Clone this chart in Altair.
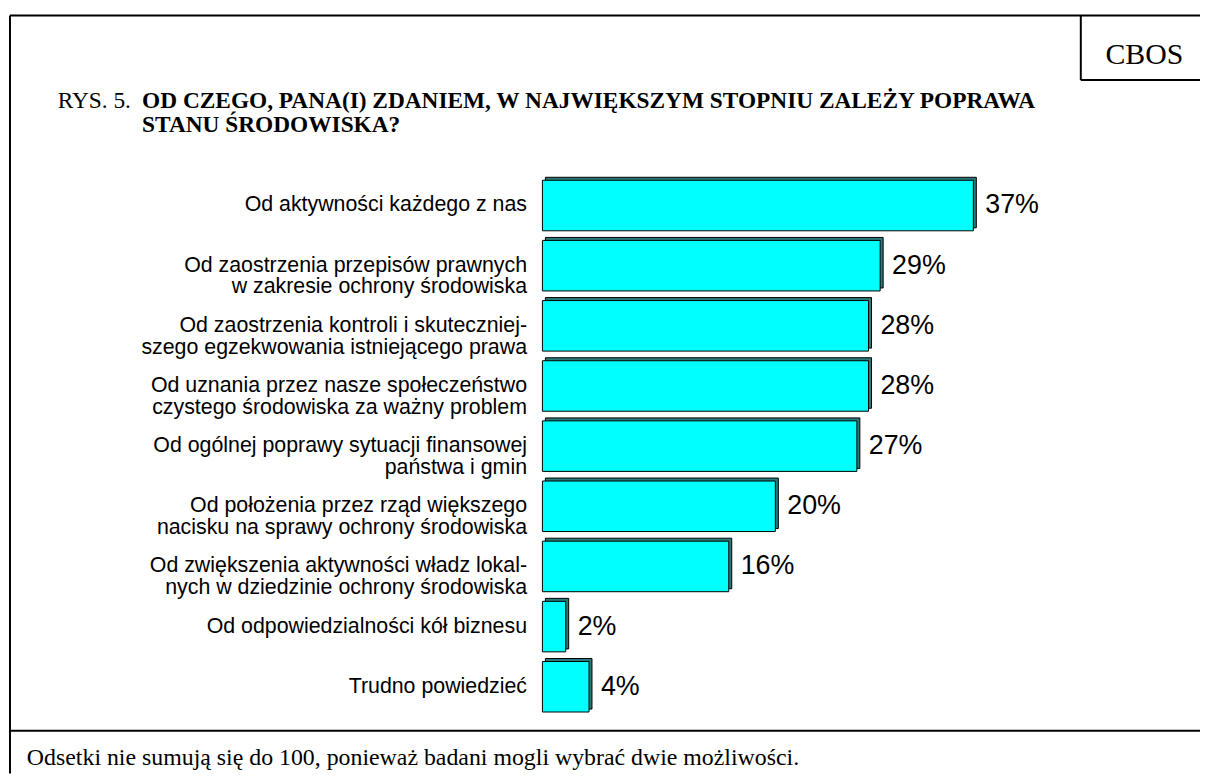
import altair as alt
import pandas as pd

# ---- data ----
categories = [
    "Od aktywności każdego z nas",
    "Od zaostrzenia przepisów prawnych\nw zakresie ochrony środowiska",
    "Od zaostrzenia kontroli i skuteczniej-\nszego egzekwowania istniejącego prawa",
    "Od uznania przez nasze społeczeństwo\nczystego środowiska za ważny problem",
    "Od ogólnej poprawy sytuacji finansowej\npaństwa i gmin",
    "Od położenia przez rząd większego\nnacisku na sprawy ochrony środowiska",
    "Od zwiększenia aktywności władz lokal-\nnych w dziedzinie ochrony środowiska",
    "Od odpowiedzialności kół biznesu",
    "Trudno powiedzieć",
]
values = [37, 29, 28, 28, 27, 20, 16, 2, 4]

title_prefix = "RYS. 5."
title_lines = [
    "OD CZEGO, PANA(I) ZDANIEM, W NAJWIĘKSZYM STOPNIU ZALEŻY POPRAWA",
    "STANU ŚRODOWISKA?",
]
source_label = "CBOS"
footnote = "Odsetki nie sumują się do 100, ponieważ badani mogli wybrać dwie możliwości."

df = pd.DataFrame({"label": categories, "value": values})
df["txt"] = [f"{v}%" for v in values]
one = pd.DataFrame({"k": [0]})

SANS = "Liberation Sans"
SERIF = "Liberation Serif"

y_enc = alt.Y(
    "label:N",
    sort=categories,
    scale=alt.Scale(paddingInner=0.16, paddingOuter=0.08),
    axis=alt.Axis(
        title=None,
        domain=False,
        ticks=False,
        grid=False,
        labelAlign="right",
        labelBaseline="middle",
        labelPadding=16,
        labelFont=SANS,
        labelFontSize=21.5,
        labelLineHeight=22,
        labelColor="black",
        labelLimit=600,
        labelExpr="split(datum.label, '\\n')",
    ),
)
x_enc = alt.X("value:Q", scale=alt.Scale(domain=[0, 40]), axis=None)

base = alt.Chart(df).encode(y=y_enc, x=x_enc)

side = base.mark_bar(color="#2A7A7A", stroke="black", strokeWidth=1, xOffset=3, yOffset=-3)
face = base.mark_bar(color="#00FFFF", stroke="black", strokeWidth=1)
vals = base.mark_text(
    align="left", baseline="middle", dx=12, font=SANS, fontSize=27, color="black"
).encode(text="txt:N")

def rule(x, x2, y, y2, w=2):
    return alt.Chart(one).mark_rule(color="black", strokeWidth=w).encode(
        x=alt.value(x), x2=alt.value(x2), y=alt.value(y), y2=alt.value(y2)
    )

def txt(t, x, y, size, weight="normal", font=SERIF, align="left", baseline="alphabetic"):
    return alt.Chart(one).mark_text(
        text=t, align=align, baseline=baseline, font=font, fontSize=size,
        fontWeight=weight, color="black"
    ).encode(x=alt.value(x), y=alt.value(y))

decor = [
    rule(-536, -536, -161, 602),      # left frame
    rule(-536, 662, -161, -161),      # top frame
    rule(542, 542, -161, -96),        # CBOS box left
    rule(542, 662, -96, -96),         # CBOS box bottom
    rule(-536, 662, 559, 559),        # footnote separator
    txt(source_label, 606, -121, 30, align="center", baseline="middle"),
    txt(title_prefix, -488, -68, 23.5),
    txt(title_lines[0], -403, -68, 23.5, weight="bold"),
    txt(title_lines[1], -403, -44, 23.5, weight="bold"),
    txt(footnote, -519, 593, 24),
]

chart = alt.layer(side, face, vals, *decor).properties(
    width=469,
    height=545,
    padding={"left": 538, "top": 166, "right": 193, "bottom": 57},
    autosize=alt.AutoSizeParams(type="none"),
    background="white",
).configure_view(stroke=None)

chart.save("out.html", embed_options={"renderer": "svg", "actions": False})
